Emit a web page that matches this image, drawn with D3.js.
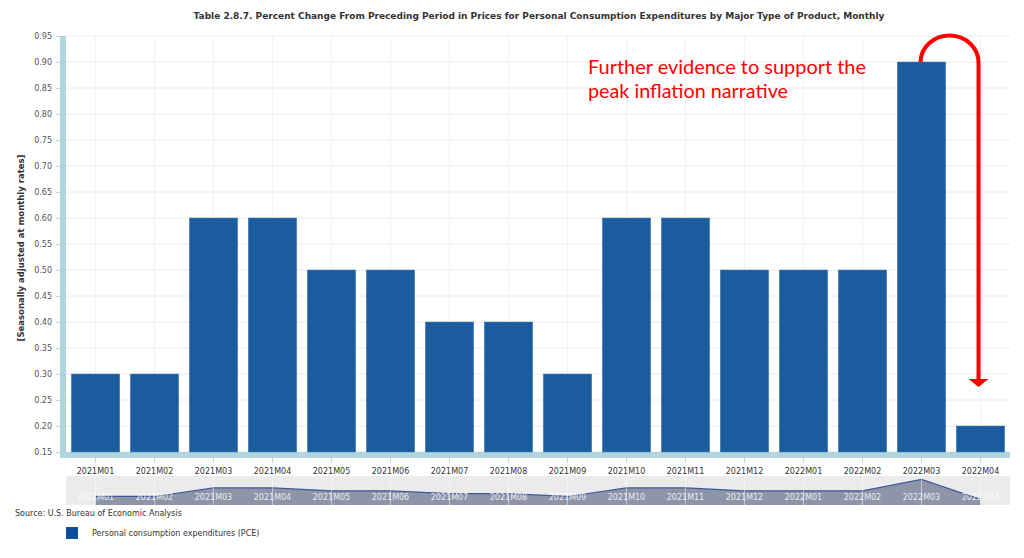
<!DOCTYPE html>
<html>
<head>
<meta charset="utf-8">
<script src="https://cdn.jsdelivr.net/npm/d3@7"></script>
<style>
  body { margin: 0; background: #fff; }
  svg text { font-family: "DejaVu Sans", Verdana, sans-serif; }
</style>
</head>
<body>
<svg id="chart"></svg>
<script>
// chart data
const months = ['2021M01', '2021M02', '2021M03', '2021M04', '2021M05', '2021M06', '2021M07', '2021M08',
  '2021M09', '2021M10', '2021M11', '2021M12', '2022M01', '2022M02', '2022M03', '2022M04'];
const pceValues = [0.3, 0.3, 0.6, 0.6, 0.5, 0.5, 0.4, 0.4, 0.3, 0.6, 0.6, 0.5, 0.5, 0.5, 0.9, 0.2];
const yTicks = [0.15, 0.20, 0.25, 0.30, 0.35, 0.40, 0.45, 0.50, 0.55, 0.60, 0.65, 0.70, 0.75, 0.80, 0.85, 0.90, 0.95];
const seriesName = 'Personal consumption expenditures (PCE)';

const width = 1024, height = 558;
const margin = { top: 36, right: 14, bottom: 106, left: 66 };
const innerW = width - margin.left - margin.right;
const innerH = height - margin.top - margin.bottom;

const svg = d3.select('#chart')
  .attr('width', width)
  .attr('height', height);

const xScale = d3.scaleBand()
  .domain(months)
  .range([margin.left, margin.left + innerW])
  .paddingInner(0.18)
  .paddingOuter(0.09);

const yScale = d3.scaleLinear()
  .domain([0.15, 0.95])
  .range([margin.top + innerH, margin.top]);

const cx = d => xScale(d) + xScale.bandwidth() / 2;

// title
svg.append('text')
  .attr('x', 539)
  .attr('y', 19)
  .attr('text-anchor', 'middle')
  .style('font-size', '9px')
  .style('font-weight', 'bold')
  .attr('fill', '#333')
  .text('Table 2.8.7. Percent Change From Preceding Period in Prices for Personal Consumption Expenditures by Major Type of Product, Monthly');

// grid lines
svg.append('g')
  .selectAll('line')
  .data(yTicks)
  .join('line')
  .attr('x1', margin.left)
  .attr('x2', margin.left + innerW)
  .attr('y1', d => yScale(d))
  .attr('y2', d => yScale(d))
  .attr('stroke', '#ececec');

svg.append('g')
  .selectAll('line')
  .data(months)
  .join('line')
  .attr('x1', d => cx(d))
  .attr('x2', d => cx(d))
  .attr('y1', margin.top)
  .attr('y2', margin.top + innerH)
  .attr('stroke', '#f1f1f1');

// y axis
const yAxisG = svg.append('g')
  .attr('transform', `translate(${margin.left - 6},0)`)
  .call(d3.axisLeft(yScale).tickValues(yTicks).tickFormat(d3.format('.2f')).tickSize(4).tickPadding(4));
yAxisG.select('.domain').remove();
yAxisG.selectAll('line').attr('stroke', '#ccd6eb');
yAxisG.selectAll('text').attr('fill', '#555').style('font-size', '8px');

// light blue axis bars
svg.append('rect')
  .attr('x', margin.left - 6)
  .attr('y', margin.top)
  .attr('width', 6)
  .attr('height', innerH + 6)
  .attr('fill', '#b0d5df');
svg.append('rect')
  .attr('x', margin.left)
  .attr('y', margin.top + innerH)
  .attr('width', innerW)
  .attr('height', 6)
  .attr('fill', '#b0d5df');

// y axis title
svg.append('text')
  .attr('transform', `translate(24,${margin.top + innerH / 2 + 4}) rotate(-90)`)
  .attr('text-anchor', 'middle')
  .style('font-size', '8.5px')
  .style('font-weight', 'bold')
  .attr('fill', '#333')
  .text('[Seasonally adjusted at monthly rates]');

// bars
svg.append('g')
  .selectAll('rect')
  .data(pceValues)
  .join('rect')
  .attr('x', (d, i) => xScale(months[i]))
  .attr('y', d => yScale(d))
  .attr('width', xScale.bandwidth())
  .attr('height', d => yScale(0.15) - yScale(d))
  .attr('fill', '#1a5c9e')
  .attr('stroke', '#4a7fb5')
  .attr('stroke-width', 0.5);

// x axis
const xAxisG = svg.append('g')
  .attr('transform', `translate(0,${margin.top + innerH + 6})`)
  .call(d3.axisBottom(xScale).tickSize(5).tickPadding(5));
xAxisG.select('.domain').remove();
xAxisG.selectAll('line').attr('stroke', '#ccd6eb');
xAxisG.selectAll('text').attr('fill', '#333').style('font-size', '8px');

// navigator
const navTop = 476, navBottom = 505;
const navY = d3.scaleLinear().domain([0, 0.95]).range([navBottom, navTop + 2]);
svg.append('rect')
  .attr('x', margin.left)
  .attr('y', navTop)
  .attr('width', innerW)
  .attr('height', navBottom - navTop)
  .attr('fill', '#ebebeb');

const navData = months.map((m, i) => ({ m, v: pceValues[i] }));
svg.append('path')
  .datum(navData)
  .attr('d', d3.area().x(d => cx(d.m)).y0(navBottom).y1(d => navY(d.v)))
  .attr('fill', '#8f95a9');
svg.append('path')
  .datum(navData)
  .attr('d', d3.line().x(d => cx(d.m)).y(d => navY(d.v)))
  .attr('fill', 'none')
  .attr('stroke', '#3d5a9a')
  .attr('stroke-width', 1.2);

svg.append('g')
  .selectAll('line')
  .data(months)
  .join('line')
  .attr('x1', d => cx(d))
  .attr('x2', d => cx(d))
  .attr('y1', navTop)
  .attr('y2', navBottom)
  .attr('stroke', '#fff')
  .attr('stroke-opacity', 0.5);

svg.append('g')
  .selectAll('text')
  .data(months)
  .join('text')
  .attr('x', d => cx(d))
  .attr('y', 500)
  .attr('text-anchor', 'middle')
  .style('font-size', '8px')
  .attr('fill', '#fff')
  .attr('fill-opacity', 0.85)
  .text(d => d);

// source and legend
svg.append('text')
  .attr('x', 15)
  .attr('y', 516)
  .style('font-size', '8px')
  .attr('fill', '#333')
  .text('Source: U.S. Bureau of Economic Analysis');

svg.append('rect')
  .attr('x', 66)
  .attr('y', 527)
  .attr('width', 12)
  .attr('height', 12)
  .attr('fill', '#0b4f9c');
svg.append('text')
  .attr('x', 92)
  .attr('y', 536)
  .style('font-size', '8px')
  .attr('fill', '#333')
  .text(seriesName);

// annotation
const noteLines = ['Further evidence to support the', 'peak inflation narrative'];
const noteWidths = [278, 200];
svg.append('g')
  .selectAll('text')
  .data(noteLines)
  .join('text')
  .attr('x', 588)
  .attr('y', (d, i) => 74 + i * 24)
  .attr('textLength', (d, i) => noteWidths[i])
  .attr('lengthAdjust', 'spacingAndGlyphs')
  .attr('fill', '#ff0000')
  .style('font-family', 'Lato, "Open Sans", sans-serif')
  .style('font-size', '20px')
  .text(d => d);

// curved arrow from the March spike down to April
const ax1 = cx('2022M03') - 1, ax2 = cx('2022M04') - 2;
const r = (ax2 - ax1) / 2;
const arcTop = yScale(0.95) - 1;
const startY = arcTop + r - 2;
const endY = yScale(0.275);
svg.append('path')
  .attr('d', `M${ax1},${startY} A${r},${r - 2} 0 0 1 ${ax2},${startY + 1} L${ax2},${endY - 7}`)
  .attr('fill', 'none')
  .attr('stroke', '#ff0000')
  .attr('stroke-width', 4);
svg.append('path')
  .attr('d', `M${ax2 - 10},${endY - 8} L${ax2 + 10},${endY - 8} L${ax2},${endY} Z`)
  .attr('fill', '#ff0000');
</script>
</body>
</html>
